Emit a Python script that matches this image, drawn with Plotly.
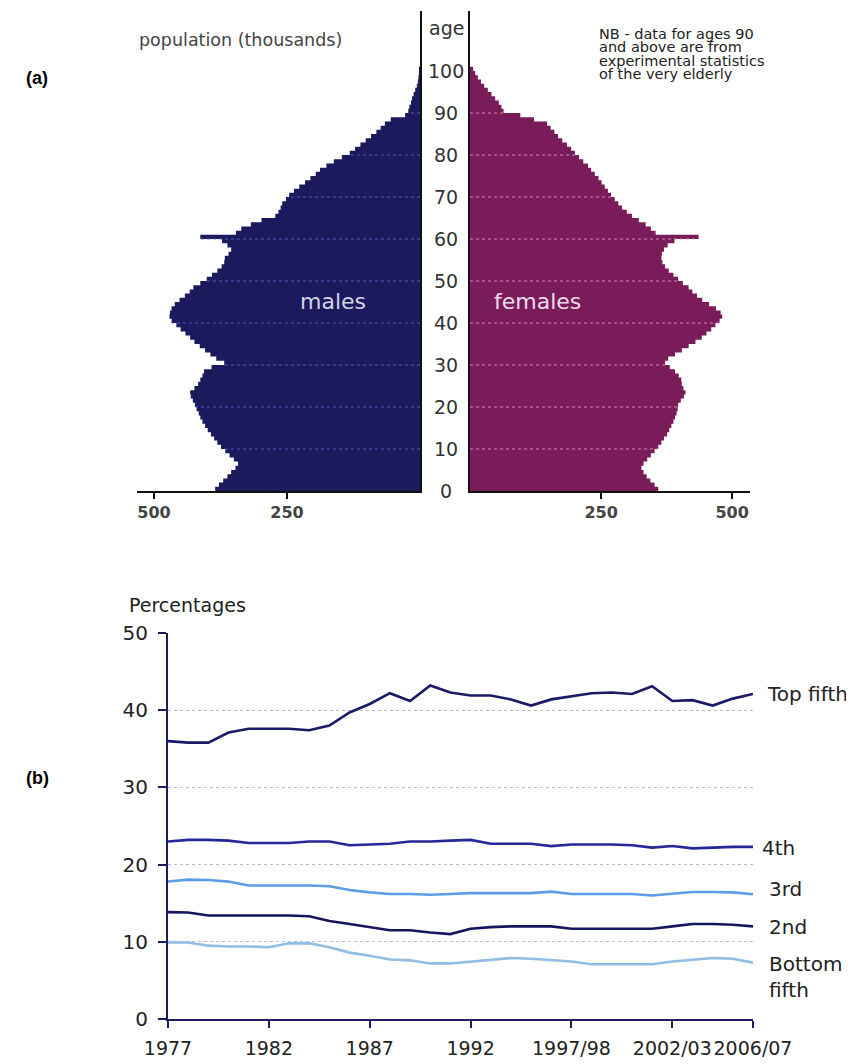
import plotly.graph_objects as go

# ---------------- data: (a) population pyramid ----------------
ages = list(range(0, 101))
males = [385, 378, 370, 362, 355, 347, 342, 350, 358, 366,
         374, 381, 387, 393, 399, 404, 409, 413, 416, 420,
         423, 427, 431, 432, 424, 417, 413, 409, 406, 392,
         368, 383, 394, 404, 414, 424, 432, 441, 450, 458,
         467, 471, 470, 467, 461, 452, 442, 433, 426, 413,
         401, 391, 381, 373, 368, 367, 360, 355, 362, 372,
         413, 346, 336, 318, 298, 272, 266, 262, 259, 252,
         246, 237, 227, 216, 206, 196, 188, 176, 162, 147,
         132, 122, 112, 102, 92, 82, 74, 66, 55, 28,
         22, 20, 17, 15, 12, 9, 6, 4, 3, 2,
         2]
females = [359, 352, 344, 337, 331, 327, 331, 338, 345, 352,
           359, 365, 370, 376, 380, 384, 388, 391, 394, 396,
           397, 402, 408, 411, 407, 404, 403, 398, 391, 381,
           372, 378, 391, 404, 417, 430, 442, 451, 460, 468,
           476, 481, 478, 469, 456, 443, 433, 424, 417, 406,
           397, 388, 379, 372, 367, 365, 366, 370, 377, 390,
           436, 354, 345, 335, 322, 309, 299, 290, 283, 276,
           269, 263, 257, 251, 245, 238, 231, 225, 216, 208,
           200, 193, 185, 176, 168, 161, 154, 147, 122, 96,
           64, 60, 55, 48, 41, 34, 27, 21, 15, 10,
           6]
age_ticks = [0, 10, 20, 30, 40, 50, 60, 70, 80, 90, 100]
pop_ticks_m = [500, 250]
pop_ticks_f = [250, 500]

# ---------------- data: (b) income shares ----------------
years = ['1977', '1978', '1979', '1980', '1981', '1982', '1983', '1984', '1985', '1986',
         '1987', '1988', '1989', '1990', '1991', '1992', '1993', '1994/95', '1995/96', '1996/97',
         '1997/98', '1998/99', '1999/00', '2000/01', '2001/02', '2002/03', '2003/04', '2004/05',
         '2005/06', '2006/07']
top_fifth = [36.0, 35.8, 35.8, 37.1, 37.6, 37.6, 37.6, 37.4, 38.0, 39.7,
             40.8, 42.2, 41.2, 43.2, 42.3, 41.9, 41.9, 41.4, 40.6, 41.4,
             41.8, 42.2, 42.3, 42.1, 43.1, 41.2, 41.3, 40.6, 41.5, 42.1]
fourth = [23.0, 23.2, 23.2, 23.1, 22.8, 22.8, 22.8, 23.0, 23.0, 22.5,
          22.6, 22.7, 23.0, 23.0, 23.1, 23.2, 22.7, 22.7, 22.7, 22.4,
          22.6, 22.6, 22.6, 22.5, 22.2, 22.4, 22.1, 22.2, 22.3, 22.3]
third = [17.8, 18.05, 18.0, 17.8, 17.3, 17.3, 17.3, 17.3, 17.2, 16.7,
         16.4, 16.2, 16.2, 16.1, 16.2, 16.3, 16.3, 16.3, 16.3, 16.5,
         16.2, 16.2, 16.2, 16.2, 16.0, 16.2, 16.45, 16.45, 16.4, 16.15]
second = [13.85, 13.8, 13.4, 13.4, 13.4, 13.4, 13.4, 13.3, 12.7, 12.3,
          11.9, 11.5, 11.5, 11.2, 11.0, 11.7, 11.9, 12.0, 12.0, 12.0,
          11.7, 11.7, 11.7, 11.7, 11.7, 12.0, 12.3, 12.3, 12.2, 12.0]
bottom_fifth = [9.9, 9.9, 9.5, 9.4, 9.4, 9.3, 9.8, 9.8, 9.3, 8.6,
                8.2, 7.7, 7.6, 7.2, 7.2, 7.45, 7.7, 7.9, 7.8, 7.6,
                7.45, 7.1, 7.1, 7.1, 7.1, 7.45, 7.7, 7.9, 7.8, 7.3]
x_tick_labels = ['1977', '1982', '1987', '1992', '1997/98', '2002/03', '2006/07']
pct_ticks = [0, 10, 20, 30, 40, 50]

# ---------------- styling ----------------
OFF = 8                      # page body margin of the html page
W, H = 854 - OFF, 1064 - OFF
def fx(px):
    return (px - OFF) / W
def fy(py):
    return 1 - (py - OFF) / H

FONT = 'DejaVu Sans'
MALE = '#1b1a5c'
FEMALE = '#7b1c5a'
NAVY = '#1c1c5e'

fig = go.Figure()

# pyramid halves drawn as stepped filled outlines (one step per single year of age)
step_y = ages + [ages[-1] + 1]
fig.add_trace(go.Scatter(x=males + [0], y=step_y, mode='lines', line=dict(shape='vh', width=0, color=MALE),
                         fill='tozerox', fillcolor=MALE, xaxis='x', yaxis='y', hoverinfo='skip'))
fig.add_trace(go.Scatter(x=females + [0], y=step_y, mode='lines', line=dict(shape='vh', width=0, color=FEMALE),
                         fill='tozerox', fillcolor=FEMALE, xaxis='x2', yaxis='y2', hoverinfo='skip'))

series = [
    (top_fifth, '#1a1a66'),
    (fourth, '#26289a'),
    (third, '#5b9de6'),
    (second, '#161660'),
    (bottom_fifth, '#8fbde3'),
]
for vals, col in series:
    fig.add_trace(go.Scatter(x=years, y=vals, mode='lines',
                             line=dict(color=col, width=2.6),
                             xaxis='x3', yaxis='y3', hoverinfo='skip'))

shapes = []
for a in age_ticks[1:-1]:
    shapes.append(dict(type='line', xref='x', yref='y', x0=0, x1=males[a], y0=a, y1=a,
                       line=dict(color='rgba(100,100,215,0.85)', width=1, dash='dot'),
                       layer='above'))
    shapes.append(dict(type='line', xref='x2', yref='y2', x0=0, x1=females[a], y0=a, y1=a,
                       line=dict(color='rgba(235,150,200,0.85)', width=1, dash='dot'),
                       layer='above'))

ann = []
def text(x, y, s, size, color='#222', xanchor='left', family=FONT, xref='paper', yref='paper'):
    ann.append(dict(x=x, y=y, xref=xref, yref=yref, text=s, showarrow=False,
                    xanchor=xanchor, yanchor='middle',
                    font=dict(family=family, size=size, color=color)))

for t in age_ticks:
    text(fx(446), t, str(t), 19, '#333', 'center', yref='y')
text(fx(446), fy(28), 'age', 19, '#333', 'center')
text(fx(137), fy(40), 'population (thousands)', 17.5, '#444')
for i, line in enumerate(['NB - data for ages 90', 'and above are from',
                          'experimental statistics', 'of the very elderly']):
    text(fx(597), fy(34 + 13.4 * i), line, 14.5, '#222')
text(fx(333), fy(302), 'males', 22, '#d4d4e4', 'center')
text(fx(537), fy(302), 'females', 22, '#ecdcea', 'center')
text(fx(24), fy(78), '<b>(a)</b>', 18, '#000', family='Liberation Sans')
text(fx(24), fy(778), '<b>(b)</b>', 18, '#000', family='Liberation Sans')
text(fx(127), fy(605), 'Percentages', 19, '#222')
text(fx(765), fy(694), 'Top fifth', 20, '#222')
text(fx(760), fy(848), '4th', 20, '#222')
text(fx(767), fy(889), '3rd', 20, '#222')
text(fx(767), fy(927), '2nd', 20, '#222')
text(fx(767), fy(964), 'Bottom', 20, '#222')
text(fx(767), fy(990), 'fifth', 20, '#222')

pyr_y = dict(domain=[fy(491), fy(11)], range=[0, 114.3], showline=True, linecolor='#111',
             linewidth=2, showticklabels=False, ticks='', showgrid=False, zeroline=False,
             automargin=False)
pyr_x = dict(showline=True, linecolor='#111', linewidth=2, ticks='outside', ticklen=6,
             tickcolor='#111', tickwidth=1.5, showgrid=False, zeroline=False, tickangle=0,
             automargin=False, tickfont=dict(family=FONT, size=16, color='#444'))

fig.update_layout(
    width=W, height=H, margin=dict(l=0, r=0, t=0, b=0, autoexpand=False),
    paper_bgcolor='white', plot_bgcolor='white', showlegend=False,
    xaxis=dict(domain=[fx(137), fx(420)], range=[532, 0], anchor='y',
               tickvals=pop_ticks_m, ticktext=['<b>%d</b>' % v for v in pop_ticks_m], **pyr_x),
    yaxis=dict(anchor='x', side='right', **pyr_y),
    xaxis2=dict(domain=[fx(470), fx(750)], range=[0, 534], anchor='y2',
                tickvals=pop_ticks_f, ticktext=['<b>%d</b>' % v for v in pop_ticks_f], **pyr_x),
    yaxis2=dict(anchor='x2', side='left', **pyr_y),
    xaxis3=dict(domain=[fx(168), fx(753)], anchor='y3', type='category', range=[0, 29],
                showline=True, linecolor=NAVY, linewidth=2, ticks='outside', ticklen=7,
                tickcolor=NAVY, tickwidth=1.5, tickvals=x_tick_labels, ticktext=x_tick_labels,
                tickfont=dict(family=FONT, size=19, color='#222'), showgrid=False,
                zeroline=False, ticklabelstandoff=4, tickangle=0, automargin=False),
    yaxis3=dict(domain=[fy(1019), fy(633)], range=[0, 50], anchor='x3',
                showline=True, linecolor=NAVY, linewidth=2, ticks='outside', ticklen=8,
                tickcolor=NAVY, tickwidth=1.5, tickvals=pct_ticks,
                tickfont=dict(family=FONT, size=20, color='#222'),
                showgrid=True, gridcolor='#b9b9cf', griddash='dot', gridwidth=1,
                zeroline=False, ticklabelstandoff=6, automargin=False),
    shapes=shapes, annotations=ann,
)

fig.write_html('out.html')
